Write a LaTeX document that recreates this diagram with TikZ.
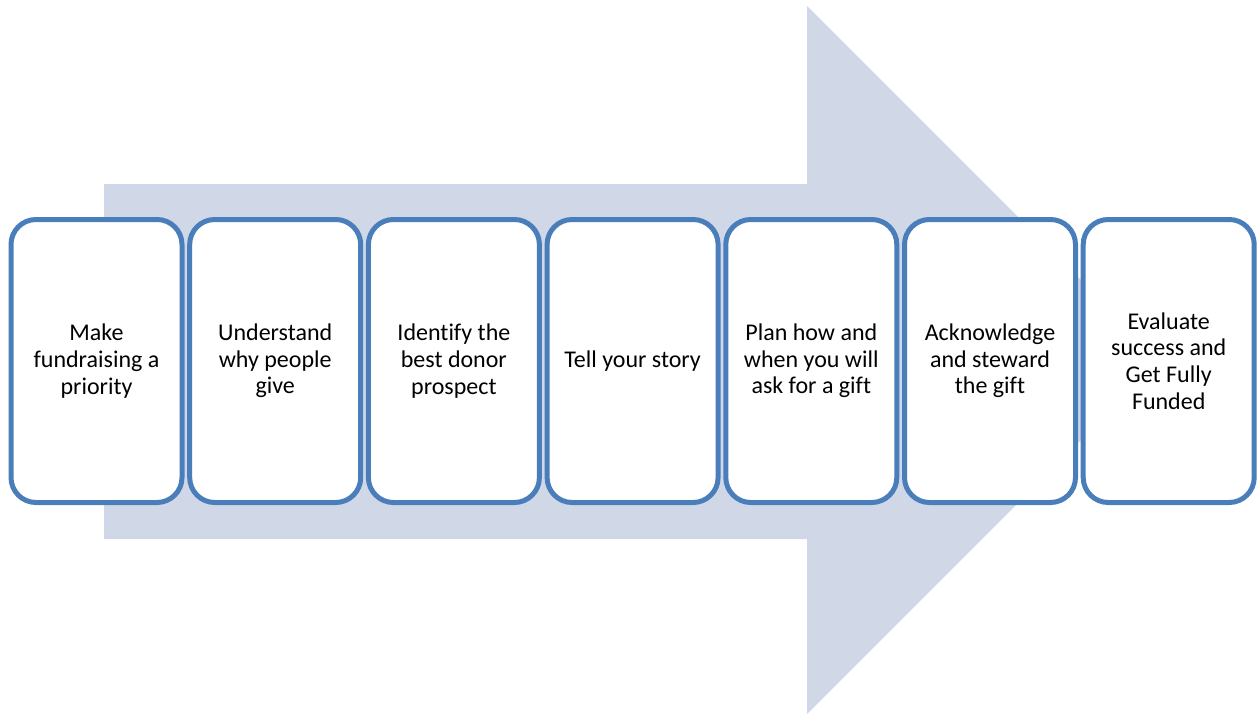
\documentclass[tikz,border=0pt]{standalone}
\usepackage{fontspec}
\setmainfont[Ligatures=NoCommon]{Carlito}
\definecolor{stepline}{HTML}{4A7EBB}
\definecolor{arrowfill}{HTML}{D0D8E8}
\begin{document}
\begin{tikzpicture}[x=1pt,y=-1pt,
  stepbox/.style={draw=stepline, fill=white, line width=5pt, rounded corners=25pt,
    minimum width=171pt, minimum height=283pt, inner sep=0pt, align=center,
    font=\fontsize{24}{26.7}\selectfont, text=black}]
\useasboundingbox (0,0) rectangle (1258,717);
% background block arrow
\fill[arrowfill] (104,184) -- (807,184) -- (807,6) -- (1161,360) -- (807,714)
  -- (807,539) -- (104,539) -- cycle;
% process steps
\node[stepbox] (s1) at (96.5,361) {Make\\fundraising a\\priority};
\node[stepbox] (s2) at (275.2,361) {Understand\\why people\\give};
\node[stepbox] (s3) at (453.9,361) {Identify the\\best donor\\prospect};
\node[stepbox] (s4) at (632.6,361) {Tell your story};
\node[stepbox] (s5) at (811.3,361) {Plan how and\\when you will\\ask for a gift};
\node[stepbox] (s6) at (990.0,361) {Acknowledge\\and steward\\the gift};
\node[stepbox] (s7) at (1168.7,361) {Evaluate\\success and\\Get Fully\\Funded};
\end{tikzpicture}
\end{document}
